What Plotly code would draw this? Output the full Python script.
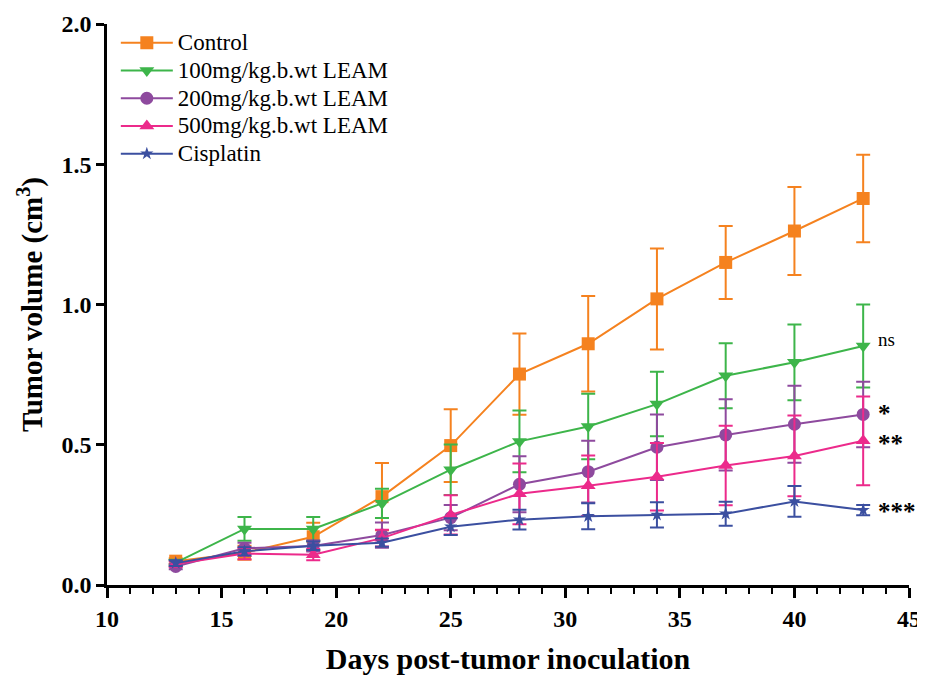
import plotly.graph_objects as go

days = [13, 16, 19, 22, 25, 28, 31, 34, 37, 40, 43]

control = [0.085, 0.115, 0.172, 0.315, 0.497, 0.752, 0.860, 1.020, 1.150, 1.262, 1.378]
control_err = [0.01, 0.025, 0.05, 0.12, 0.13, 0.145, 0.17, 0.18, 0.13, 0.157, 0.156]

leam100 = [0.080, 0.200, 0.200, 0.291, 0.411, 0.512, 0.565, 0.645, 0.746, 0.794, 0.852]
leam100_err = [0.01, 0.042, 0.042, 0.052, 0.09, 0.11, 0.117, 0.115, 0.116, 0.135, 0.148]

leam200 = [0.066, 0.131, 0.139, 0.178, 0.240, 0.359, 0.404, 0.491, 0.535, 0.573, 0.608]
leam200_err = [0.01, 0.02, 0.02, 0.045, 0.045, 0.10, 0.11, 0.117, 0.127, 0.137, 0.117]

leam500 = [0.075, 0.112, 0.108, 0.167, 0.250, 0.325, 0.354, 0.386, 0.426, 0.460, 0.514]
leam500_err = [0.01, 0.02, 0.02, 0.03, 0.07, 0.108, 0.108, 0.12, 0.142, 0.144, 0.158]

cisplatin = [0.078, 0.120, 0.140, 0.151, 0.208, 0.233, 0.245, 0.250, 0.254, 0.298, 0.267]
cisplatin_err = [0.01, 0.015, 0.015, 0.015, 0.03, 0.035, 0.046, 0.045, 0.043, 0.055, 0.018]

names = ["Control", "100mg/kg.b.wt LEAM", "200mg/kg.b.wt LEAM",
         "500mg/kg.b.wt LEAM", "Cisplatin"]
values = [control, leam100, leam200, leam500, cisplatin]
errors = [control_err, leam100_err, leam200_err, leam500_err, cisplatin_err]
colors = ["#F5821F", "#3DB54A", "#8E4A9E", "#EC2A8B", "#3B4FA0"]
symbols = ["square", "triangle-down", "circle", "triangle-up", "star"]
sizes = [13, 13, 13, 13, 10]

sig_labels = ["ns", "*", "**", "***"]
sig_y = [0.875, 0.61, 0.505, 0.262]

FONT = "Liberation Serif"

fig = go.Figure()
for name, v, e, c, s, sz in zip(names, values, errors, colors, symbols, sizes):
    fig.add_trace(go.Scatter(
        x=days, y=v, name='<span style="font-size:23px">' + name + "</span>",
        mode="lines+markers",
        line=dict(color=c, width=2),
        marker=dict(symbol=s, size=sz, color=c),
        error_y=dict(type="data", array=e, visible=True, color=c,
                     thickness=2, width=7),
    ))

for lab, yy in zip(sig_labels, sig_y):
    fig.add_annotation(
        x=43.55, y=yy, text=lab if lab == "ns" else "<b>" + lab + "</b>",
        showarrow=False, xanchor="left", yanchor="middle",
        font=dict(family=FONT, size=19 if lab == "ns" else 25, color="black"),
    )

fig.update_layout(
    width=925, height=667,
    margin=dict(l=99, r=24, t=16, b=90, autoexpand=False),
    plot_bgcolor="white", paper_bgcolor="white",
    font=dict(family=FONT, color="black"),
    showlegend=True,
    legend=dict(x=0.011, y=1.0, xanchor="left", yanchor="top",
                font=dict(family=FONT, size=19, color="black"),
                bgcolor="rgba(0,0,0,0)", tracegroupgap=0, itemwidth=52),
)

fig.update_xaxes(
    range=[10, 45], tickmode="linear", tick0=10, dtick=5, automargin=False,
    ticklabeloverflow="allow",
    showline=True, linecolor="black", linewidth=2.5,
    ticks="outside", ticklen=10, tickwidth=2.5, tickcolor="black",
    minor=dict(dtick=1, ticks="outside", ticklen=6, tickwidth=2, tickcolor="black"),
    showgrid=False, zeroline=False,
    tickfont=dict(family=FONT, size=24, color="black"),
    tickprefix="<b>", ticksuffix="</b>",
    title=dict(text="<b>Days post-tumor inoculation</b>",
               font=dict(family=FONT, size=30, color="black"), standoff=19),
)
fig.update_yaxes(
    range=[0, 2.0], tickmode="linear", tick0=0, dtick=0.5, tickformat=".1f",
    automargin=False,
    showline=True, linecolor="black", linewidth=2.5,
    ticks="outside", ticklen=8, tickwidth=2.5, tickcolor="black",
    showgrid=False, zeroline=False,
    tickfont=dict(family=FONT, size=24, color="black"),
    tickprefix="<b>", ticksuffix="</b>",
    title=dict(text="<b>Tumor volume (cm<sup>3</sup>)</b>",
               font=dict(family=FONT, size=29, color="black"), standoff=11),
)

fig.write_html("out.html")
